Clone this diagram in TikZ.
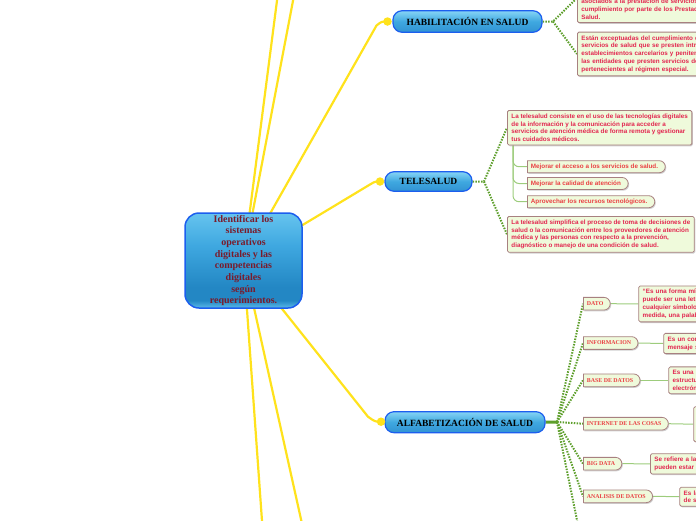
\documentclass[tikz,border=0pt]{standalone}
\usepackage{fontspec}
\setmainfont{Liberation Serif}
\newfontfamily\sansleaf{Liberation Sans}
\usetikzlibrary{shapes.misc,shadows,calc}
\definecolor{yel}{HTML}{FFE21C}
\definecolor{grn}{HTML}{5E9F2C}
\definecolor{lgrn}{HTML}{9DCC7C}
\definecolor{leaffill}{HTML}{EFFADB}
\definecolor{leafdraw}{HTML}{A88080}
\definecolor{leaftxt}{HTML}{E2264F}
\definecolor{pilltxt}{HTML}{EA3F42}
\definecolor{cborder}{HTML}{1C5EEE}
\definecolor{ctext}{HTML}{7A1B2B}
\definecolor{bA}{HTML}{66C4EF}
\definecolor{bM}{HTML}{3FA8E0}
\definecolor{bB}{HTML}{2387C4}
\definecolor{bC}{HTML}{5CBAE9}
\definecolor{pA}{HTML}{86D4F5}
\definecolor{pB}{HTML}{3192D2}
\pgfdeclareverticalshading{cshade}{100bp}{color(0bp)=(bC); color(25bp)=(bC); color(29bp)=(bB); color(36bp)=(bB); color(58bp)=(bM); color(75bp)=(bA); color(100bp)=(bA)}
\pgfdeclareverticalshading{pshade}{100bp}{color(0bp)=(pB); color(25bp)=(pB); color(50bp)=(bM); color(75bp)=(pA); color(100bp)=(pA)}
\pgfdeclarelayer{bg}
\pgfsetlayers{bg,main}
\tikzset{
  central/.style={rectangle, rounded corners=14pt, minimum width=117pt, minimum height=95pt,
    draw=cborder, line width=1.5pt, shading=cshade, align=center, inner sep=0pt,
    font=\bfseries\fontsize{10}{11.7}\selectfont, text=ctext},
  topic/.style={rectangle, rounded corners=9pt, draw=cborder, line width=1.2pt, shading=pshade,
    inner sep=0pt, font=\bfseries\fontsize{9.5}{10}\selectfont, text=black},
  ydot/.style={circle, fill=yel, inner sep=0pt, minimum size=8.5pt},
  leaf/.style={rectangle, draw=leafdraw, line width=0.8pt, fill=leaffill, rounded corners=1.5pt,
    inner xsep=4pt, inner ysep=3.3pt, align=left, text=leaftxt,
    font=\sansleaf\bfseries\fontsize{6.3}{7.8}\selectfont,
    drop shadow={shadow xshift=1pt, shadow yshift=-1.2pt, fill=black!40, opacity=0.45}},
  tpill/.style={rounded rectangle, rounded rectangle left arc=none, draw=leafdraw, line width=0.8pt,
    fill=leaffill, inner xsep=3.5pt, inner ysep=0pt, minimum height=12pt, anchor=west, text=pilltxt,
    font=\sansleaf\bfseries\fontsize{6.3}{7}\selectfont,
    execute at end node={\hspace{3pt}},
    drop shadow={shadow xshift=1pt, shadow yshift=-1.2pt, fill=black!40, opacity=0.45}},
  qpill/.style={tpill, minimum height=12.7pt, font=\bfseries\fontsize{5.9}{6}\selectfont},
  yline/.style={draw=yel, line width=2.2pt},
  gdot/.style={draw=grn, line width=2pt, dash pattern=on 1.5pt off 1.3pt},
  gthick/.style={draw=grn, line width=3pt},
  lline/.style={draw=lgrn, line width=1pt},
}
\begin{document}
\begin{tikzpicture}[x=1pt,y=-1pt]
\useasboundingbox (0,0) rectangle (696,520);
\clip (0,0) rectangle (696,520);

% central
\node[central] (c) at (243.5,260.5) {Identificar los\\sistemas\\operativos\\digitales y las\\competencias\\digitales\\según\\requerimientos.};

% main topics
\node[topic, minimum width=149pt, minimum height=21.5pt] (h) at (467.5,21.5) {HABILITACIÓN EN SALUD};
\node[topic, minimum width=87pt, minimum height=19.5pt] (t) at (428.5,181.5) {TELESALUD};
\node[topic, minimum width=160pt, minimum height=21pt] (a) at (465,422.2) {ALFABETIZACIÓN DE  SALUD};

\node[ydot] (d1) at (387.5,21.5) {};
\node[ydot] (d2) at (380,181.5) {};
\node[ydot] (d3) at (381,421.7) {};

% habilitacion leaves
\node[leaf, anchor=south west, text width=160pt] (h1) at (577,23) {asociados a la prestación de servicios y\\cumplimiento por parte de los Prestadores\\Salud.};
\node[leaf, anchor=north west, text width=160pt] (h2) at (577,31.7) {Están exceptuadas del cumplimiento de\\servicios de salud que se presten intramurales\\establecimientos carcelarios y penitenciarios\\las entidades que presten servicios de\\pertenecientes al régimen especial.};

% telesalud leaves
\node[leaf, anchor=north west] (t1) at (507,110) {La telesalud consiste en el uso de las tecnologías digitales\\de la información y la comunicación para acceder a\\servicios de atención médica de forma remota y gestionar\\tus cuidados médicos.};
\node[leaf, anchor=north west] (t2) at (507,216) {La telesalud simplifica el proceso de toma de decisiones de\\salud o la comunicación entre los proveedores de atención\\médica y las personas con respecto a la prevención,\\diagnóstico o manejo de una condición de salud.};

\node[tpill] (p1) at (527,166.7) {Mejorar el acceso a los servicios de salud.};
\node[tpill] (p2) at (527,183.5) {Mejorar la calidad de atención};
\node[tpill] (p3) at (527,201.7) {Aprovechar los recursos tecnológicos.};

% alfabetizacion pills
\node[qpill] (q1) at (583,303.7) {DATO};
\node[qpill] (q2) at (583,343) {INFORMACION};
\node[qpill] (q3) at (583,380.3) {BASE DE DATOS};
\node[qpill] (q4) at (583,423.7) {INTERNET DE LAS COSAS};
\node[qpill] (q5) at (583,463.7) {BIG DATA};
\node[qpill] (q6) at (583,496.3) {ANALISIS DE DATOS};

\node[leaf, anchor=west, text width=90pt] (r1) at (638.3,303.9) {“Es una forma mínima\\puede ser una letra,\\cualquier símbolo\\medida, una palabra};
\node[leaf, anchor=west, text width=60pt] (r2) at (663.3,343.5) {Es un conjunto\\mensaje sobre};
\node[leaf, anchor=west, text width=60pt] (r3) at (668.3,380.3) {Es una red\\estructurada\\electrónica};
\node[leaf, anchor=west, minimum width=30pt, minimum height=35pt] (r4) at (693.3,424.2) {};
\node[leaf, anchor=west, text width=70pt] (r5) at (650,463.8) {Se refiere a la\\pueden estar};
\node[leaf, anchor=west, text width=40pt] (r6) at (679.3,496.7) {Es la\\de s};

\coordinate (ctop1) at (279,-15);
\coordinate (ctop2) at (296,-15);
\coordinate (cbot1) at (263,535);
\coordinate (cbot2) at (304.5,535);
\coordinate (hj) at (553,21.5);
\coordinate (hup) at (578,-3);
\coordinate (tj) at (484,181.5);
\coordinate (ts) at ($(t1.south west)+(6,0)$);
\coordinate (aj) at (557,422);
\coordinate (aoff) at (579,530);

\begin{pgfonlayer}{bg}
\draw[yline] (c.center) -- (ctop1);
\draw[yline] (c.center) -- (ctop2);
\draw[yline] (c.center) -- (cbot1);
\draw[yline] (c.center) -- (cbot2);
\draw[yline] (c.center) -- ($(d1)+(-11,4)$) .. controls ($(d1)+(-6,0)$) .. (d1.center);
\draw[yline] (c.center) -- ($(d2)+(-10,3)$) .. controls ($(d2)+(-5,0)$) .. (d2.center);
\draw[yline] (c.center) -- ($(d3)+(-13,-5)$) .. controls ($(d3)+(-6,0)$) .. (d3.center);

\draw[gdot] (h.east) -- (hj) -- (hup);
\draw[gdot] (hj) -- (h2.west);
\draw[gdot] (t.east) -- (tj) -- (t1.west);
\draw[gdot] (tj) -- (t2.west);
\draw[lline, rounded corners=6pt] (ts) |- (p1.west);
\draw[lline, rounded corners=6pt] (ts) |- (p2.west);
\draw[lline, rounded corners=6pt] (ts) |- (p3.west);

\draw[gthick] (a.east) -- (aj);
\foreach \q in {q1,q2,q3,q4,q5,q6} {\draw[gdot] (aj) -- (\q.west);}
\draw[gdot] (aj) -- (aoff);
\draw[lline] (q1.east) -- (r1.west);
\draw[lline] (q2.east) -- (r2.west);
\draw[lline] (q3.east) -- (r3.west);
\draw[lline] (q4.east) -- (r4.west);
\draw[lline] (q5.east) -- (r5.west);
\draw[lline] (q6.east) -- (r6.west);
\end{pgfonlayer}
\end{tikzpicture}
\end{document}
